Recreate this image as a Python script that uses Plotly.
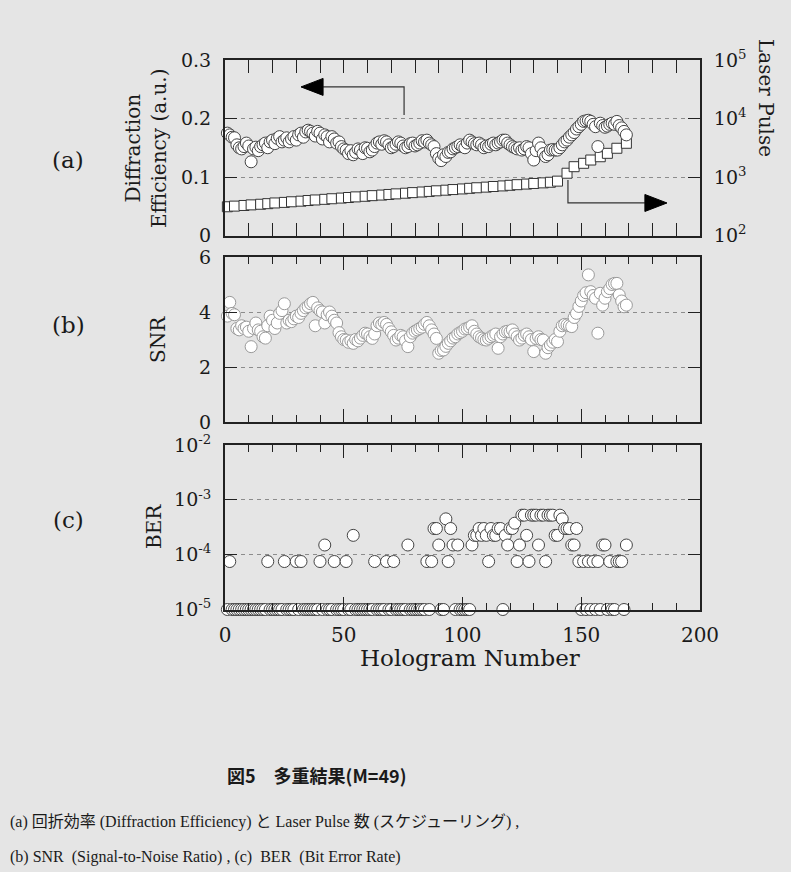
import plotly.graph_objects as go

# ---------------- data ----------------
hologram = list(range(1, 170))

diffraction_eff = [
    0.175, 0.172, 0.168, 0.167, 0.155, 0.150, 0.148, 0.152, 0.158, 0.153,
    0.126, 0.148, 0.151, 0.145, 0.152, 0.155, 0.158, 0.150, 0.160, 0.163,
    0.157, 0.166, 0.169, 0.160, 0.163, 0.167, 0.160, 0.165, 0.169, 0.163,
    0.172, 0.175, 0.168, 0.177, 0.180, 0.178, 0.175, 0.170, 0.178, 0.175,
    0.165, 0.172, 0.169, 0.160, 0.169, 0.165, 0.158, 0.160, 0.152, 0.148,
    0.146, 0.140, 0.145, 0.138, 0.142, 0.148, 0.146, 0.140, 0.150, 0.149,
    0.143, 0.146, 0.152, 0.158, 0.160, 0.156, 0.162, 0.160, 0.155, 0.150,
    0.152, 0.156, 0.160, 0.158, 0.153, 0.150, 0.152, 0.157, 0.158, 0.153,
    0.155, 0.158, 0.162, 0.160, 0.163, 0.158, 0.155, 0.152, 0.140, 0.132,
    0.128, 0.138, 0.135, 0.142, 0.143, 0.148, 0.150, 0.152, 0.155, 0.152,
    0.150, 0.158, 0.163, 0.160, 0.157, 0.155, 0.158, 0.155, 0.150, 0.153,
    0.152, 0.156, 0.158, 0.155, 0.158, 0.160, 0.163, 0.163, 0.158, 0.155,
    0.152, 0.150, 0.148, 0.150, 0.146, 0.148, 0.152, 0.150, 0.140, 0.129,
    0.145, 0.158, 0.150, 0.140, 0.135, 0.138, 0.146, 0.147, 0.146, 0.146,
    0.150, 0.155, 0.160, 0.163, 0.168, 0.172, 0.176, 0.182, 0.186, 0.190,
    0.195, 0.196, 0.197, 0.195, 0.190, 0.186, 0.152, 0.192, 0.188, 0.185,
    0.187, 0.190, 0.192, 0.190, 0.195, 0.188, 0.184, 0.178, 0.172,
]

snr = [
    3.85, 4.35, 3.95, 3.90, 3.40, 3.35, 3.50, 3.40, 3.45, 3.30,
    2.74, 3.40, 3.60, 3.35, 3.30, 3.10, 3.05, 3.50, 3.85, 3.70,
    3.40, 3.60, 3.95, 4.05, 4.30, 3.60, 3.70, 3.65, 3.75, 3.85,
    3.80, 3.95, 4.05, 4.15, 4.20, 4.30, 4.35, 3.50, 4.15, 4.05,
    4.00, 3.60, 3.90, 4.00, 3.85, 3.70, 3.60, 3.25, 3.10, 3.00,
    2.98, 2.90, 2.95, 2.86, 3.00, 2.95, 3.05, 3.15, 3.23, 3.20,
    3.10, 3.04, 3.20, 3.50, 3.60, 3.55, 3.62, 3.55, 3.40, 3.28,
    3.15, 2.98, 3.05, 3.15, 3.10, 2.95, 2.74, 3.10, 3.23, 3.30,
    3.35, 3.40, 3.45, 3.55, 3.62, 3.50, 3.35, 3.20, 3.04, 2.50,
    2.60, 2.62, 2.75, 2.86, 2.95, 3.05, 3.10, 3.20, 3.25, 3.30,
    3.38, 3.40, 3.45, 3.50, 3.30, 3.20, 3.10, 3.05, 3.00, 2.98,
    3.04, 3.10, 3.15, 3.20, 2.68, 3.10, 3.20, 3.28, 3.30, 3.28,
    3.35, 3.20, 3.10, 2.98, 3.05, 3.15, 3.20, 3.10, 3.00, 2.56,
    3.04, 3.10, 3.00, 2.98, 2.50, 2.70, 2.80, 2.90, 3.00, 2.92,
    3.30, 3.50, 3.55, 3.53, 3.50, 3.47, 3.80, 3.95, 4.20, 4.40,
    4.60, 4.70, 5.35, 4.74, 4.60, 4.50, 3.23, 4.68, 4.25, 4.50,
    4.74, 4.85, 5.00, 5.04, 5.04, 4.62, 4.40, 4.19, 4.25,
]

# BER (error-free holograms are drawn on the 1e-5 floor)
ber = [
    1e-5, 7.5e-5, 1e-5, 1e-5, 1e-5, 1e-5, 1e-5, 1e-5, 1e-5, 1e-5,
    1e-5, 1e-5, 1e-5, 1e-5, 1e-5, 1e-5, 1e-5, 7.5e-5, 1e-5, 1e-5,
    1e-5, 1e-5, 1e-5, 1e-5, 7.5e-5, 1e-5, 1e-5, 1e-5, 1e-5, 7.5e-5,
    1e-5, 7.5e-5, 1e-5, 1e-5, 1e-5, 1e-5, 1e-5, 1e-5, 1e-5, 7.5e-5,
    1e-5, 1.5e-4, 1e-5, 1e-5, 1e-5, 7.5e-5, 1e-5, 1e-5, 1e-5, 1e-5,
    7.5e-5, 1e-5, 1e-5, 2.25e-4, 1e-5, 1e-5, 1e-5, 1e-5, 1e-5, 1e-5,
    1e-5, 1e-5, 7.5e-5, 1e-5, 1e-5, 1e-5, 1e-5, 7.5e-5, 1e-5, 1e-5,
    7.5e-5, 1e-5, 1e-5, 1e-5, 1e-5, 1e-5, 1.5e-4, 1e-5, 1e-5, 1e-5,
    1e-5, 1e-5, 1e-5, 1e-5, 7.5e-5, 1e-5, 7.5e-5, 3e-4, 3e-4, 1.5e-4,
    1e-5, 1e-5, 4.5e-4, 7.5e-5, 3e-4, 1.5e-4, 1e-5, 1.5e-4, 1e-5, 1e-5,
    1e-5, 1e-5, 1e-5, 1.5e-4, 2.25e-4, 2.25e-4, 3e-4, 2.25e-4, 3e-4, 2.25e-4,
    7.5e-5, 3e-4, 2.25e-4, 2.25e-4, 3e-4, 3e-4, 1e-5, 2.25e-4, 1.5e-4, 3e-4,
    3e-4, 3.75e-4, 7.5e-5, 1.5e-4, 5.25e-4, 5.25e-4, 2.25e-4, 7.5e-5, 5.25e-4, 5.25e-4,
    5.25e-4, 1.5e-4, 5.25e-4, 5.25e-4, 7.5e-5, 5.25e-4, 5.25e-4, 5.25e-4, 2.25e-4, 2.25e-4,
    5.25e-4, 4.5e-4, 3e-4, 3e-4, 3e-4, 1.5e-4, 1.5e-4, 3e-4, 7.5e-5, 1e-5,
    7.5e-5, 1e-5, 7.5e-5, 1e-5, 7.5e-5, 1e-5, 7.5e-5, 1e-5, 1.5e-4, 1.5e-4,
    1e-5, 7.5e-5, 1e-5, 1e-5, 7.5e-5, 7.5e-5, 7.5e-5, 1e-5, 1.5e-4,
]

laser_x = [1, 4, 8, 11, 15, 18, 21, 25, 28, 32,
           35, 38, 42, 45, 49, 52, 55, 59, 62, 66,
           69, 72, 76, 79, 83, 86, 89, 93, 96, 100,
           103, 106, 110, 113, 117, 120, 123, 127, 130, 134,
           137, 140, 144, 147, 151, 154, 158, 161, 165, 169]
laser_pulse = [310, 318, 326, 334, 342, 350, 360, 368, 377, 386,
               396, 405, 415, 425, 436, 446, 457, 468, 480, 491,
               503, 515, 528, 541, 554, 567, 581, 595, 610, 625,
               640, 655, 671, 688, 704, 721, 739, 757, 775, 794,
               813, 850, 1160, 1500, 1715, 1950, 2220, 2540, 3100, 3770]

x_ticks = [0, 50, 100, 150, 200]
de_ticks = [0, 0.1, 0.2, 0.3]
de_ticktext = ["0", "0.1", "0.2", "0.3"]
lp_ticks = [1e2, 1e3, 1e4, 1e5]
lp_ticktext = ["10<sup>2</sup>", "10<sup>3</sup>", "10<sup>4</sup>", "10<sup>5</sup>"]
snr_ticks = [0, 2, 4, 6]
ber_ticks = [1e-5, 1e-4, 1e-3, 1e-2]
ber_ticktext = ["10<sup>-5</sup>", "10<sup>-4</sup>", "10<sup>-3</sup>", "10<sup>-2</sup>"]

assert len(diffraction_eff) == len(hologram) == len(snr) == len(ber)
assert len(laser_x) == len(laser_pulse)

# ---------------- layout helpers ----------------
W, H = 791, 872
BG = "#e5e5e5"
SERIF = "DejaVu Serif"
XTICKFONT = dict(family=SERIF, size=20, color="#1a1a1a")
YTICKFONT = dict(family=SERIF, size=19, color="#1a1a1a")


def fx(p):
    return p / W


def fy(p):
    return 1 - p / H


XDOM = [fx(225), fx(700)]
DOM_A = [fy(235.5), fy(60)]
DOM_B = [fy(422), fy(257)]
DOM_C = [fy(609.5), fy(445)]

GRID = dict(showgrid=True, gridcolor="#8c8c8c", gridwidth=1, griddash="4px,4px")


def xaxis_cfg(anchor, labels):
    return dict(domain=XDOM, anchor=anchor, range=[0, 200], tickvals=x_ticks,
                ticks="inside", ticklen=13, tickwidth=1.2, tickcolor="#222",
                minor=dict(dtick=10, ticks="inside", ticklen=7, tickwidth=1.2, tickcolor="#222"),
                showline=True, linecolor="#222", linewidth=2, mirror="allticks",
                showgrid=False, zeroline=False, showticklabels=labels,
                tickfont=XTICKFONT, ticklabelstandoff=6, automargin=False)


fig = go.Figure()

circle_marker = dict(symbol="circle", size=12, color="white",
                     line=dict(color="#444444", width=1))
circle_marker_b = dict(symbol="circle", size=12, color="white",
                       line=dict(color="#9a9a9a", width=1))
square_marker = dict(symbol="square", size=10, color="white",
                     line=dict(color="#333333", width=1))

fig.add_trace(go.Scatter(x=laser_x, y=laser_pulse, mode="markers", marker=square_marker,
                         xaxis="x", yaxis="y", cliponaxis=False, showlegend=False))
fig.add_trace(go.Scatter(x=hologram, y=diffraction_eff, mode="markers", marker=circle_marker,
                         xaxis="x", yaxis="y2", cliponaxis=False, showlegend=False))
fig.add_trace(go.Scatter(x=hologram, y=snr, mode="markers", marker=circle_marker_b,
                         xaxis="x2", yaxis="y3", cliponaxis=False, showlegend=False))
fig.add_trace(go.Scatter(x=hologram, y=ber, mode="markers", marker=circle_marker,
                         xaxis="x3", yaxis="y4", cliponaxis=False, showlegend=False))

ycommon = dict(ticks="inside", ticklen=12, tickwidth=1.2, tickcolor="#222",
               showline=True, linecolor="#222", linewidth=2, zeroline=False,
               tickfont=YTICKFONT, ticklabelstandoff=8, automargin=False)

fig.update_layout(
    width=W, height=H, autosize=False,
    margin=dict(l=0, r=0, t=0, b=0, pad=0, autoexpand=False),
    paper_bgcolor=BG, plot_bgcolor=BG,
    xaxis=xaxis_cfg("y", False),
    xaxis2=xaxis_cfg("y3", False),
    xaxis3=xaxis_cfg("y4", True),
    yaxis=dict(domain=DOM_A, anchor="x", type="log", range=[2, 5], side="right",
               tickvals=lp_ticks, ticktext=lp_ticktext, mirror=True, **GRID, **ycommon),
    yaxis2=dict(overlaying="y", anchor="x", side="left", range=[0, 0.3],
                tickvals=de_ticks, ticktext=de_ticktext, showgrid=False, **ycommon),
    yaxis3=dict(domain=DOM_B, anchor="x2", range=[0, 6], tickvals=snr_ticks,
                mirror="ticks", **GRID, **ycommon),
    yaxis4=dict(domain=DOM_C, anchor="x3", type="log", range=[-5, -2],
                tickvals=ber_ticks, ticktext=ber_ticktext, mirror="ticks", **GRID, **ycommon),
)

# arrows in panel (a)
LINE = dict(color="#333", width=1.2)
fig.add_shape(type="path", xref="x", yref="y2",
              path="M 75.4,0.206 L 75.4,0.254 L 41.3,0.254", line=LINE)
fig.add_shape(type="path", xref="x", yref="y2",
              path="M 32,0.254 L 41.3,0.2685 L 41.3,0.2395 Z",
              fillcolor="black", line=dict(color="black", width=1))
fig.add_shape(type="path", xref="x", yref="y2",
              path="M 144.4,0.0949 L 144.4,0.0556 L 176.8,0.0556", line=LINE)
fig.add_shape(type="path", xref="x", yref="y2",
              path="M 186.1,0.0556 L 176.8,0.0701 L 176.8,0.0411 Z",
              fillcolor="black", line=dict(color="black", width=1))


def ann(text, x, y, size, angle=0, family=SERIF, xanchor="center", color="#1a1a1a"):
    fig.add_annotation(text=text, x=fx(x), y=fy(y), xref="paper", yref="paper",
                       showarrow=False, textangle=angle, xanchor=xanchor, yanchor="middle",
                       font=dict(family=family, size=size, color=color))


ann("(a)", 68, 160, 23)
ann("(b)", 68, 325, 23)
ann("(c)", 68, 520, 23)
ann("Diffraction<br>Efficiency (a.u.)", 146, 148, 20, angle=-90)
ann("SNR", 158, 340, 20, angle=-90)
ann("BER", 154, 527, 20, angle=-90)
ann("Laser Pulse", 766, 98, 20, angle=90)
ann("Hologram Number", 470, 658, 23)

CJK = "Liberation Serif, Noto Sans CJK JP"
ann("<b>図5　多重結果(M=49)</b>", 316, 775, 18, family="Noto Sans CJK JP")
ann("(a) 回折効率 (Diffraction Efficiency) と Laser Pulse 数 (スケジューリング) ,",
    8, 822, 16, family=CJK, xanchor="left")
ann("(b) SNR  (Signal-to-Noise Ratio) , (c)  BER  (Bit Error Rate)",
    8, 857, 16, family=CJK, xanchor="left")

fig.write_html(
    "out.html",
    config={"responsive": False, "displayModeBar": False},
    post_script="document.body.style.margin='0px';document.body.style.overflow='hidden';",
)
